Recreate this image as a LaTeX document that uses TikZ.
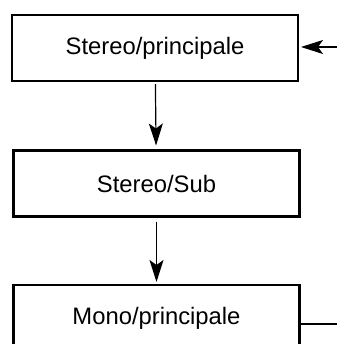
\documentclass[tikz,border=0pt]{standalone}
\usepackage{fontspec}
\setmainfont{Liberation Sans}
\usetikzlibrary{arrows.meta, positioning}

\begin{document}
\begin{tikzpicture}[
  x=0.5pt, y=-0.5pt,
  mode/.style={draw, line width=1.2pt, minimum width=143pt,
               minimum height=33pt, inner sep=0pt, outer sep=0pt,
               font=\fontsize{11.9}{14}\selectfont},
  arr/.style={-{Stealth[length=11pt, width=7pt, inset=2.5pt]}, line width=0.6pt}
]
\useasboundingbox (0,0) rectangle (337,344);

\node[mode] (stmain) at (155,48)    {Stereo/principale};
\node[mode] (stsub)  at (156.5,183.5) {Stereo/Sub};
\node[mode] (monomain) at (156.5,318) {Mono/principale};

\coordinate (in)  at (337,47);
\coordinate (out) at (337,324);

\draw[arr, shorten <=1.5pt, shorten >=2.5pt] (stmain) -- (stsub);
\draw[arr, shorten <=2.5pt, shorten >=1.5pt] (stsub) -- (monomain);
\draw[arr, shorten >=1.5pt] (in) -- (in -| stmain.east);
\draw[line width=0.6pt] (out -| monomain.east) -- (out);

\end{tikzpicture}
\end{document}
